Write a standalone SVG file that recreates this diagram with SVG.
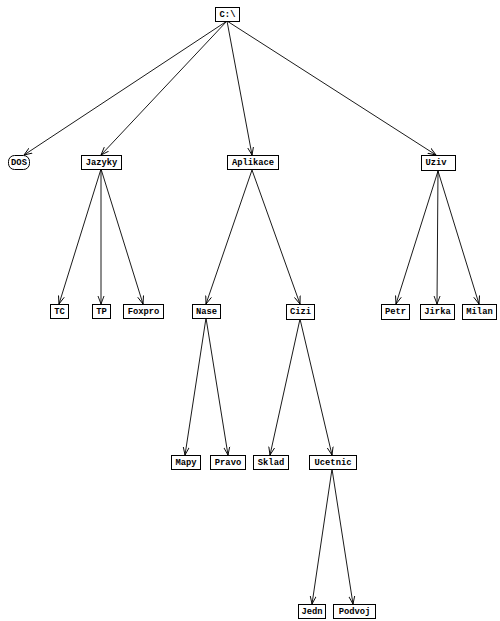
<svg xmlns="http://www.w3.org/2000/svg" width="500" height="621" viewBox="0 0 500 621">
<style>
.box{fill:#fff;stroke:#000;stroke-width:1}
.lbl{font-family:"Liberation Mono",monospace;font-size:8.8px;font-weight:bold;fill:#000;text-anchor:middle;dominant-baseline:central}
.edge{stroke:#000;stroke-width:0.9;fill:none;marker-end:url(#arr)}
</style>
<defs>
<marker id="arr" markerWidth="10" markerHeight="10" refX="8" refY="4" orient="auto" markerUnits="userSpaceOnUse">
<path d="M0,1 L8,4 L0,7" fill="none" stroke="#000" stroke-width="0.9"/>
</marker>
</defs>
<rect width="500" height="621" fill="#fff"/>
<g id="connectors">
<line class="edge" x1="227" y1="21" x2="24" y2="155"/>
<line class="edge" x1="227" y1="21" x2="101" y2="155"/>
<line class="edge" x1="227" y1="21" x2="252" y2="155"/>
<line class="edge" x1="227" y1="21" x2="436" y2="155"/>
<line class="edge" x1="101" y1="169" x2="59" y2="304"/>
<line class="edge" x1="101" y1="169" x2="101" y2="304"/>
<line class="edge" x1="101" y1="169" x2="143" y2="304"/>
<line class="edge" x1="252" y1="170" x2="206" y2="304"/>
<line class="edge" x1="252" y1="170" x2="300" y2="304"/>
<line class="edge" x1="438" y1="171" x2="396" y2="304"/>
<line class="edge" x1="438" y1="171" x2="437" y2="304"/>
<line class="edge" x1="438" y1="171" x2="479" y2="304"/>
<line class="edge" x1="206" y1="318" x2="185" y2="455"/>
<line class="edge" x1="206" y1="318" x2="228" y2="455"/>
<line class="edge" x1="300" y1="319" x2="270" y2="455"/>
<line class="edge" x1="300" y1="319" x2="332" y2="455"/>
<line class="edge" x1="332" y1="469" x2="312" y2="604"/>
<line class="edge" x1="332" y1="469" x2="353" y2="604"/>
</g>
<g id="n-root"><rect class="box" x="215.5" y="7.5" width="24" height="14"/><text class="lbl" x="227.5" y="14.5">C:\</text></g>
<g id="n-dos"><rect class="box" x="8.5" y="155.5" width="21" height="14" rx="6"/><text class="lbl" x="19" y="162.5">DOS</text></g>
<g id="n-jazyky"><rect class="box" x="81.5" y="155.5" width="40" height="14"/><text class="lbl" x="101.5" y="162.5">Jazyky</text></g>
<g id="n-aplikace"><rect class="box" x="227.5" y="155.5" width="51" height="14"/><text class="lbl" x="253" y="162.5">Aplikace</text></g>
<g id="n-uziv"><rect class="box" x="421.5" y="155.5" width="34" height="15"/><text class="lbl" x="436" y="163">Uziv</text></g>
<g id="n-tc"><rect class="box" x="50.5" y="304.5" width="18" height="14"/><text class="lbl" x="59.5" y="311.5">TC</text></g>
<g id="n-tp"><rect class="box" x="92.5" y="304.5" width="18" height="14"/><text class="lbl" x="101.5" y="311.5">TP</text></g>
<g id="n-foxpro"><rect class="box" x="123.5" y="304.5" width="40" height="14"/><text class="lbl" x="143.5" y="311.5">Foxpro</text></g>
<g id="n-nase"><rect class="box" x="192.5" y="304.5" width="28" height="14"/><text class="lbl" x="206.5" y="311.5">Nase</text></g>
<g id="n-cizi"><rect class="box" x="286.5" y="304.5" width="28" height="15"/><text class="lbl" x="300.5" y="312">Cizi</text></g>
<g id="n-petr"><rect class="box" x="381.5" y="304.5" width="28" height="15"/><text class="lbl" x="395.5" y="312">Petr</text></g>
<g id="n-jirka"><rect class="box" x="420.5" y="304.5" width="34" height="15"/><text class="lbl" x="437.5" y="312">Jirka</text></g>
<g id="n-milan"><rect class="box" x="462.5" y="304.5" width="34" height="15"/><text class="lbl" x="479.5" y="312">Milan</text></g>
<g id="n-mapy"><rect class="box" x="171.5" y="455.5" width="29" height="14"/><text class="lbl" x="186" y="462.5">Mapy</text></g>
<g id="n-pravo"><rect class="box" x="210.5" y="455.5" width="35" height="14"/><text class="lbl" x="228" y="462.5">Pravo</text></g>
<g id="n-sklad"><rect class="box" x="253.5" y="455.5" width="35" height="14"/><text class="lbl" x="271" y="462.5">Sklad</text></g>
<g id="n-ucetnic"><rect class="box" x="309.5" y="455.5" width="47" height="14"/><text class="lbl" x="333" y="462.5">Ucetnic</text></g>
<g id="n-jedn"><rect class="box" x="298.5" y="604.5" width="27" height="14"/><text class="lbl" x="312" y="611.5">Jedn</text></g>
<g id="n-podvoj"><rect class="box" x="333.5" y="604.5" width="42" height="14"/><text class="lbl" x="354.5" y="611.5">Podvoj</text></g>
</svg>
